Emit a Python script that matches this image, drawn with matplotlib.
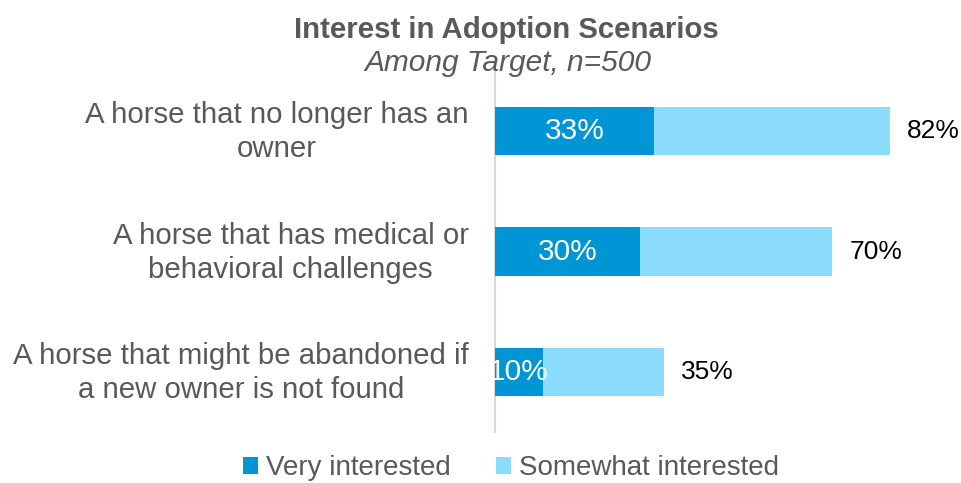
import matplotlib.pyplot as plt
import matplotlib.transforms as mtransforms

plt.rcParams['font.family'] = ['Liberation Sans', 'DejaVu Sans']

categories = ['A horse that no longer has an\nowner',
              'A horse that has medical or\nbehavioral challenges',
              'A horse that might be abandoned if\na new owner is not found']
very = [33, 30, 10]
total = [82, 70, 35]
somewhat = [t - v for t, v in zip(total, very)]

dark = '#0096D6'
light = '#8CDCFF'
gray = '#595959'

fig = plt.figure(figsize=(9.61, 4.83), dpi=100)
ax = fig.add_axes([495 / 961, 1 - 432 / 483, 466 / 961, 367 / 483])

y = list(range(len(categories)))
ax.barh(y, very, height=0.4, color=dark, label='Very interested', zorder=3)
ax.barh(y, somewhat, left=very, height=0.4, color=light, label='Somewhat interested', zorder=3)

for i in y:
    ax.text(very[i] / 2, i, f'{very[i]}%', ha='center', va='center',
            color='white', fontsize=21.5, zorder=4)
    ax.text(total[i] + 3.5, i, f'{total[i]}%', ha='left', va='center',
            color='black', fontsize=19, zorder=4)

ax.set_xlim(0, 466 / 4.82)
ax.set_ylim(2.5, -0.55)
ax.set_yticks(y)
ax.set_yticklabels(categories, fontsize=21.2, color=gray, multialignment='center',
                   linespacing=1.28)
ax.tick_params(axis='y', length=0, pad=19)
shift = mtransforms.ScaledTranslation(0, 5 / 100, fig.dpi_scale_trans)
for lbl in ax.get_yticklabels():
    lbl.set_transform(lbl.get_transform() + shift)
ax.set_xticks([])
for s in ['top', 'right', 'bottom']:
    ax.spines[s].set_visible(False)
ax.spines['left'].set_color('#D9D9D9')
ax.spines['left'].set_linewidth(1.5)

fig.text(506 / 961, 1 - 30 / 483, 'Interest in Adoption Scenarios', ha='center',
         va='center', fontsize=21.2, fontweight='bold', color=gray)
fig.text(508 / 961, 1 - 63 / 483, 'Among Target, n=500', ha='center',
         va='center', fontsize=21.5, fontstyle='italic', color=gray)

fig.legend(loc='center', bbox_to_anchor=(511 / 961, 15 / 483), ncol=2, frameon=False,
           fontsize=20, handlelength=0.55, handleheight=0.55, handletextpad=0.3,
           columnspacing=1.6, labelcolor=gray)

fig.savefig('out.png', dpi=100)
